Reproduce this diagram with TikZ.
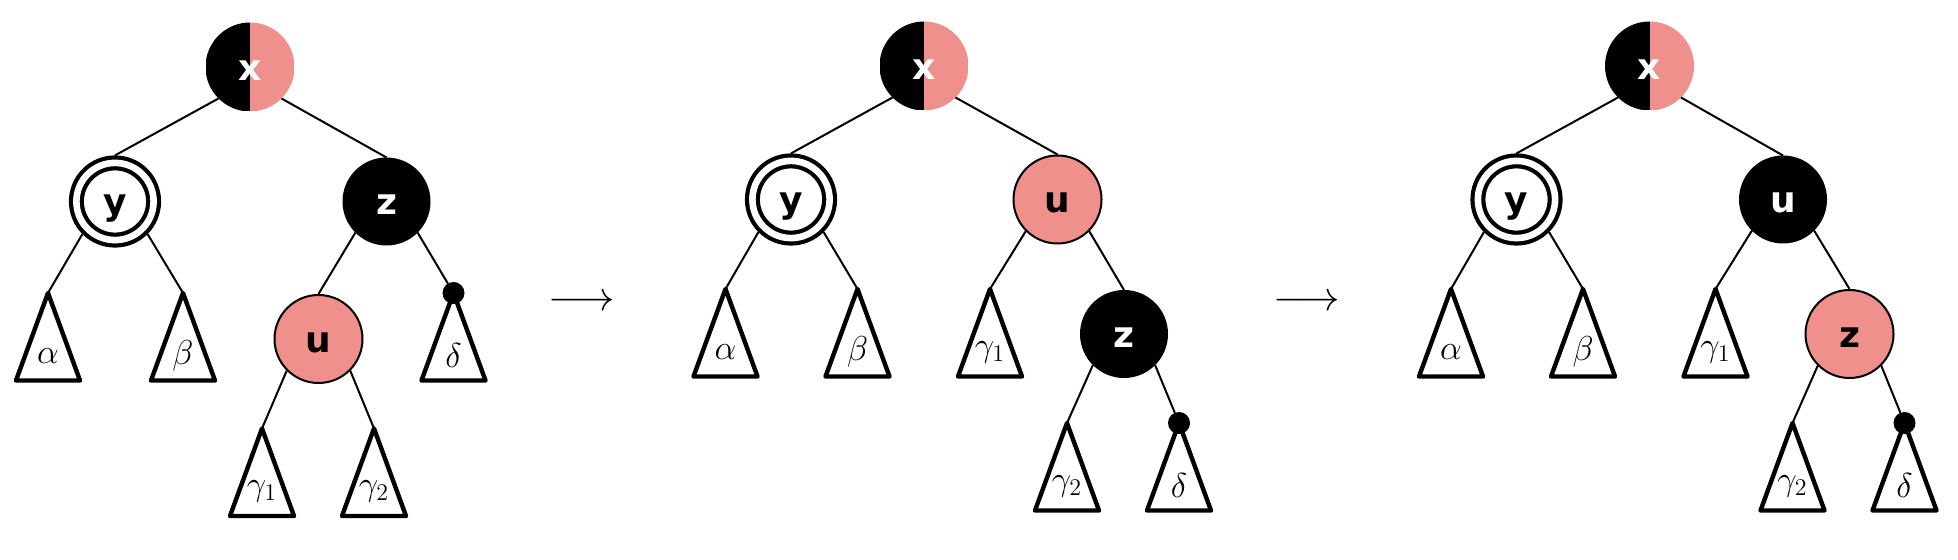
\documentclass[tikz,border=0pt]{standalone}
\usepackage{fontspec}
\newfontfamily\rblabelfont{DejaVu Sans}
\definecolor{rbpink}{RGB}{240,144,140}
\tikzset{
  rbbase/.style={circle, inner sep=0pt, outer sep=0pt, minimum size=44pt,
    text height=13.5pt, text depth=0pt,
    font=\rblabelfont\bfseries\fontsize{18}{18}\selectfont},
  blk/.style={rbbase, fill=black, text=white},
  pinknode/.style={rbbase, fill=rbpink, draw=black, line width=1pt, outer sep=0.5pt, text=black},
  halfnode/.style={rbbase, minimum size=44.5pt, text=white,
    path picture={\fill[black] (path picture bounding box.south west) rectangle (path picture bounding box.north);
                  \fill[rbpink] (path picture bounding box.south) rectangle (path picture bounding box.north east);}},
  dblnode/.style={rbbase, draw=black, line width=2.1pt, double=white, double distance=3.3pt,
    minimum size=38.6pt, outer sep=3.75pt, text=black},
  link/.style={line width=1pt},
  tri/.style={line width=2.2pt, line join=round, fill=white},
  trilabel/.style={inner sep=0pt, font=\fontsize{18}{18}\selectfont},
  dot/.style={circle, fill=black, minimum size=11pt, inner sep=0pt, outer sep=0pt},
  arrowsym/.style={inner sep=0pt, font=\fontsize{21}{21}\selectfont},
}
\newcommand\rbsub[4]{%
  \coordinate (#1) at (#2,#3);
  \draw[tri] (#1) -- ++(-32,87.5) -- ++(64,0) -- cycle;
  \node[trilabel] (#1l) at ([yshift=-31.5pt]#1) {$#4$};
}
\begin{document}
\begin{tikzpicture}[x=0.5pt,y=-0.5pt]
\useasboundingbox (0,0) rectangle (1958,560);

% ---------- tree 1 ----------
\node[halfnode] (x1) at (250,67) {x};
\node[dblnode] (y1) at (115,201.5) {y};
\node[blk] (z1) at (386.5,201.5) {z};
\node[pinknode] (u1) at (318.5,339) {u};
\rbsub{a1}{48}{293}{\alpha}
\rbsub{b1}{183}{293}{\beta}
\rbsub{dt1}{453.5}{293}{\delta}
\node[dot] (dd1) at (dt1) {};
\rbsub{ga1}{262}{428.5}{\gamma_1}
\rbsub{gb1}{374}{428.5}{\gamma_2}
\draw[link] (x1.south west) -- (y1.north);
\draw[link] (x1.south east) -- (z1.north);
\draw[link] (y1.south west) -- (a1);
\draw[link] (y1.south east) -- (b1);
\draw[link] (z1.south west) -- (u1.north);
\draw[link] (z1.south east) -- (dd1);
\draw[link] (u1.south west) -- (ga1);
\draw[link] (u1.south east) -- (gb1);

\node[arrowsym] (ar1) at (582,303) {$\longrightarrow$};

% ---------- tree 2 ----------
\node[halfnode] (x2) at (924,66) {x};
\node[dblnode] (y2) at (791,199.5) {y};
\node[pinknode] (u2) at (1057.5,199.5) {u};
\node[blk] (z2) at (1124,334) {z};
\rbsub{a2}{725.5}{289}{\alpha}
\rbsub{b2}{857.5}{289}{\beta}
\rbsub{ga2}{990}{289}{\gamma_1}
\rbsub{gb2}{1067}{423}{\gamma_2}
\rbsub{dt2}{1179}{423}{\delta}
\node[dot] (dd2) at (dt2) {};
\draw[link] (x2.south west) -- (y2.north);
\draw[link] (x2.south east) -- (u2.north);
\draw[link] (y2.south west) -- (a2);
\draw[link] (y2.south east) -- (b2);
\draw[link] (u2.south west) -- (ga2);
\draw[link] (u2.south east) -- (z2.north);
\draw[link] (z2.south west) -- (gb2);
\draw[link] (z2.south east) -- (dd2);

\node[arrowsym] (ar2) at (1307,303) {$\longrightarrow$};

% ---------- tree 3 ----------
\node[halfnode] (x3) at (1649.5,66) {x};
\node[dblnode] (y3) at (1516.5,199.5) {y};
\node[blk] (u3) at (1783,199.5) {u};
\node[pinknode] (z3) at (1849.5,334) {z};
\rbsub{a3}{1451}{289}{\alpha}
\rbsub{b3}{1583}{289}{\beta}
\rbsub{ga3}{1715.5}{289}{\gamma_1}
\rbsub{gb3}{1792.5}{423}{\gamma_2}
\rbsub{dt3}{1904.5}{423}{\delta}
\node[dot] (dd3) at (dt3) {};
\draw[link] (x3.south west) -- (y3.north);
\draw[link] (x3.south east) -- (u3.north);
\draw[link] (y3.south west) -- (a3);
\draw[link] (y3.south east) -- (b3);
\draw[link] (u3.south west) -- (ga3);
\draw[link] (u3.south east) -- (z3.north);
\draw[link] (z3.south west) -- (gb3);
\draw[link] (z3.south east) -- (dd3);
\end{tikzpicture}
\end{document}
